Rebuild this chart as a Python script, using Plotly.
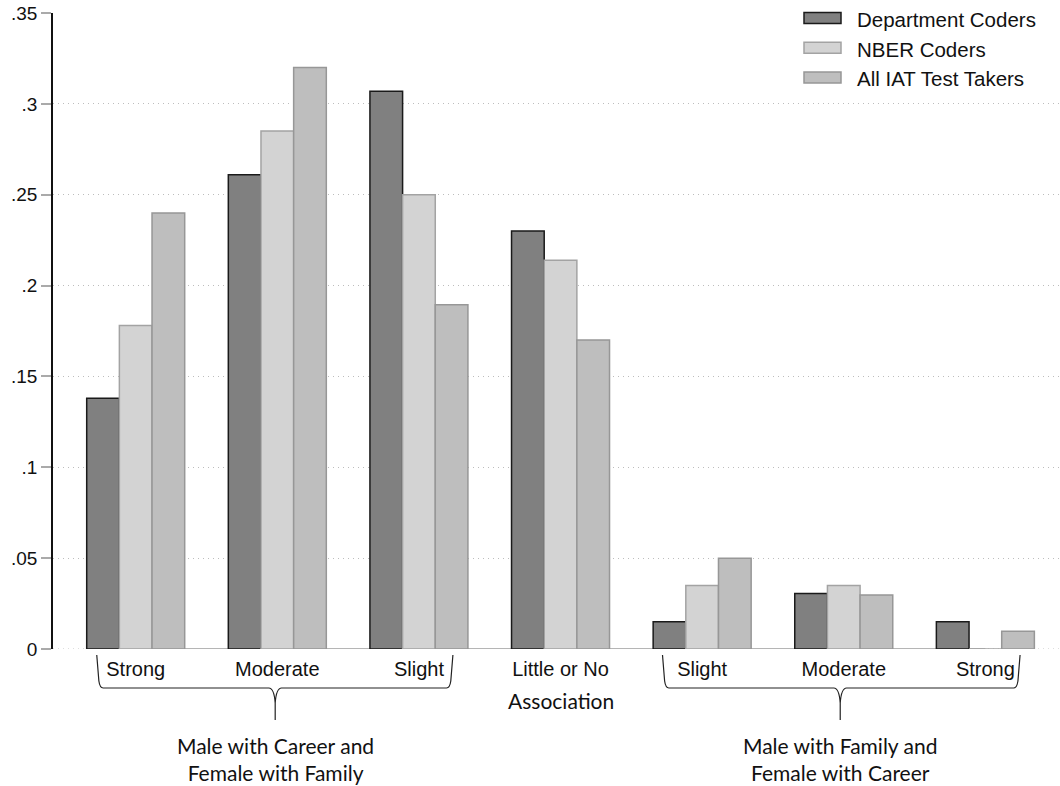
import plotly.graph_objects as go

# ---- data ----
categories = ["Strong", "Moderate", "Slight", "Little or No Association",
              "Slight", "Moderate", "Strong"]
tick_labels = ["Strong", "Moderate", "Slight", "Little or No",
               "Slight", "Moderate", "Strong"]
second_line = ["", "", "", "Association", "", "", ""]
series_names = ["Department Coders", "NBER Coders", "All IAT Test Takers"]
department_coders = [0.138, 0.261, 0.307, 0.230, 0.015, 0.0305, 0.015]
nber_coders = [0.178, 0.285, 0.250, 0.214, 0.035, 0.035, 0.0]
all_iat_takers = [0.240, 0.320, 0.1895, 0.170, 0.050, 0.0297, 0.0097]
y_tickvals = [0, 0.05, 0.1, 0.15, 0.2, 0.25, 0.3, 0.35]
y_ticktext = ["0", ".05", ".1", ".15", ".2", ".25", ".3", ".35"]
group_labels = ["Male with Career and<br>Female with Family",
                "Male with Family and<br>Female with Career"]

# ---- styles ----
fills = ["#808080", "#d3d3d3", "#bebebe"]
borders = ["#1a1a1a", "#a3a3a3", "#979797"]
ARIAL = "Liberation Sans, Arial, sans-serif"
CALI = "Lato, Carlito, Calibri, sans-serif"
GRID = "#bdbdbd"
GRIDDASH = "1px,4px"

x_idx = list(range(len(categories)))
series = [department_coders, nber_coders, all_iat_takers]

fig = go.Figure()
for name, vals, fc, bc in zip(series_names, series, fills, borders):
    fig.add_trace(go.Bar(
        x=x_idx, y=vals, name=name,
        marker=dict(color=fc, line=dict(color=bc, width=1.5)),
        showlegend=False,
        hovertext=categories,
    ))

# plot area geometry (pixels) for decorations
T, B = 13, 649
H = B - T


def py(p):
    return (B - p) / H


shapes = []
# dotted zero gridline across the plot
shapes.append(dict(type="line", xref="paper", yref="y", x0=0, x1=1, y0=0, y1=0,
                   line=dict(color=GRID, width=1, dash=GRIDDASH), layer="below"))
# baseline under bars
shapes.append(dict(type="line", xref="x", yref="y", x0=-0.345, x1=6.0, y0=0, y1=0,
                   line=dict(color="#b5b5b5", width=2), layer="between"))


def brace(x0, x1, xm):
    yt, yh, yk, yb = py(655), py(688), py(703), py(720)
    d = 0.045
    path = (f"M {x0},{yt} L {x0+0.015},{py(681)} Q {x0+0.022},{yh} {x0+d},{yh} "
            f"L {xm-d},{yh} Q {xm-0.008},{yh} {xm},{yk} L {xm},{yb} "
            f"M {xm},{yk} Q {xm+0.008},{yh} {xm+d},{yh} "
            f"L {x1-d},{yh} Q {x1-0.022},{yh} {x1-0.015},{py(681)} L {x1},{yt}")
    return dict(type="path", xref="x", yref="paper", path=path,
                line=dict(color="#222222", width=1.2))


shapes.append(brace(-0.275, 2.24, 0.985))
shapes.append(brace(3.72, 6.245, 4.975))

annotations = []
for gx, txt in zip([0.985, 4.975], group_labels):
    annotations.append(dict(x=gx, xref="x", y=py(759), yref="paper", text=txt,
                            showarrow=False, xanchor="center", yanchor="middle",
                            font=dict(family=CALI, size=21, color="#111111")))
for xi, txt in zip(x_idx, second_line):
    if txt:
        annotations.append(dict(x=xi, xref="x", y=py(700), yref="paper", text=txt,
                                showarrow=False, xanchor="center", yanchor="middle",
                                font=dict(family=CALI, size=21, color="#111111")))

# custom legend
W = 1007
L0 = 53


def pxx(p):
    return (p - L0) / W


for i, (name, fc, bc) in enumerate(zip(series_names, fills, borders)):
    cy = 18 + i * 29.7
    shapes.append(dict(type="rect", xref="paper", yref="paper",
                       x0=pxx(804), x1=pxx(841), y0=py(cy - 5.5), y1=py(cy + 5.5),
                       fillcolor=fc, line=dict(color=bc, width=1.5)))
    annotations.append(dict(x=pxx(855), xref="paper", y=py(cy + 1.5), yref="paper",
                            text=name, showarrow=False, xanchor="left",
                            yanchor="middle",
                            font=dict(family=ARIAL, size=20.5, color="#111111")))

fig.update_layout(
    width=1060, height=786,
    margin=dict(l=53, r=0, t=13, b=137),
    plot_bgcolor="white", paper_bgcolor="white",
    barmode="group", bargap=0.308, bargroupgap=0,
    shapes=shapes, annotations=annotations,
    showlegend=False,
    xaxis=dict(range=[-0.584, 6.527], tickvals=x_idx, ticktext=tick_labels,
               showline=False, showgrid=False, zeroline=False, ticks="",
               ticklabelstandoff=6,
               tickfont=dict(family=ARIAL, size=20, color="#111111")),
    yaxis=dict(range=[0, 0.35], tickvals=y_tickvals, ticktext=y_ticktext,
               showline=True, linecolor="#111111", linewidth=1.5,
               ticks="outside", ticklen=10, tickwidth=2, tickcolor="#aaaaaa",
               showgrid=True, gridcolor=GRID, griddash=GRIDDASH, gridwidth=1,
               zeroline=False,
               tickfont=dict(family=ARIAL, size=19, color="#111111")),
)

fig.write_html("out.html", config={"displayModeBar": False},
               post_script="document.body.style.margin='0';")
